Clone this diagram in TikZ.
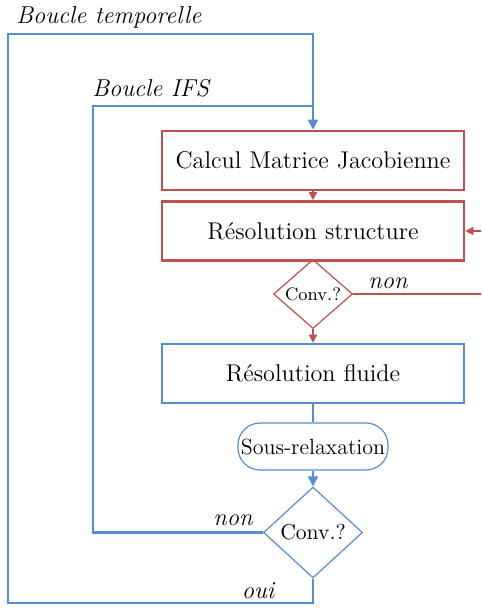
\documentclass[tikz,border=0pt]{standalone}
\usetikzlibrary{shapes.geometric,arrows.meta}
\definecolor{cblue}{RGB}{85,142,213}
\definecolor{cred}{RGB}{192,80,77}
\begin{document}
\begin{tikzpicture}[x=0.5pt,y=-0.5pt,
  txt/.style={font=\fontsize{12.1}{14}\selectfont},
  lbl/.style={font=\fontsize{12.2}{14}\selectfont\itshape,inner sep=0pt},
  redbox/.style={draw=cred,line width=1.3pt,minimum width=151pt,minimum height=29.5pt,inner sep=0pt,txt},
  bluebox/.style={redbox,draw=cblue},
  reddiam/.style={diamond,draw=cred,line width=0.6pt,minimum width=39.5pt,minimum height=31pt,inner sep=0pt,font=\fontsize{9}{10}\selectfont},
  bluediam/.style={diamond,draw=cblue,line width=0.6pt,minimum width=49.5pt,minimum height=45.5pt,inner sep=0pt,font=\fontsize{10.8}{12}\selectfont},
  pill/.style={draw=cblue,line width=0.6pt,rounded corners=11pt,minimum width=75pt,minimum height=23.5pt,inner sep=0pt,font=\fontsize{11}{13}\selectfont},
  bline/.style={draw=cblue,line width=1.3pt},
  rline/.style={draw=cred,line width=0.7pt},
  btip/.style={-{Triangle[length=5pt,width=5pt]}},
  rtip/.style={-{Triangle[length=4pt,width=4pt]}}
]
\useasboundingbox (0,0) rectangle (481,608);
\node[redbox] (jac) at (313,160.5) {Calcul Matrice Jacobienne};
\node[redbox] (struct) at (313,231) {Résolution structure};
\node[reddiam] (c1) at (313,294) {Conv.?};
\node[bluebox] (fluid) at (313,373.5) {Résolution fluide};
\node[pill] (relax) at (313,446.5) {Sous-relaxation};
\node[bluediam] (c2) at (313,532.5) {Conv.?};
\coordinate (tl) at (8,34);
\coordinate (tr) at (313,34);
\coordinate (il) at (93,106);
\coordinate (ir) at (313,106);
\coordinate (bl) at (8,603);
\coordinate (br) at (313,603);
\coordinate (ibl) at (93,532.5);
\coordinate (rin) at (481,231);
\coordinate (rout) at (481,294);
\node[lbl,anchor=west] (lt) at (16,17) {Boucle temporelle};
\node[lbl,anchor=west] (li) at (92,88) {Boucle IFS};
\node[lbl] (n1) at (388,283) {non};
\node[lbl] (n2) at (233,520) {non};
\node[lbl] (o2) at (258,591) {oui};
\draw[bline,btip] (c2.south) -- (br) -- (bl) -- (tl) -- (tr) -- (jac.north);
\draw[bline] (c2.west) -- (ibl) -- (il) -- (ir);
\draw[rline,rtip] (jac.south) -- (struct.north);
\draw[rline,rtip] (rin) -- (struct.east);
\draw[rline] (c1.east) -- (rout);
\draw[rline,rtip] (c1.south) -- (fluid.north);
\draw[bline] (fluid.south) -- (relax.north);
\draw[bline,btip] (relax.south) -- (c2.north);
\end{tikzpicture}
\end{document}
